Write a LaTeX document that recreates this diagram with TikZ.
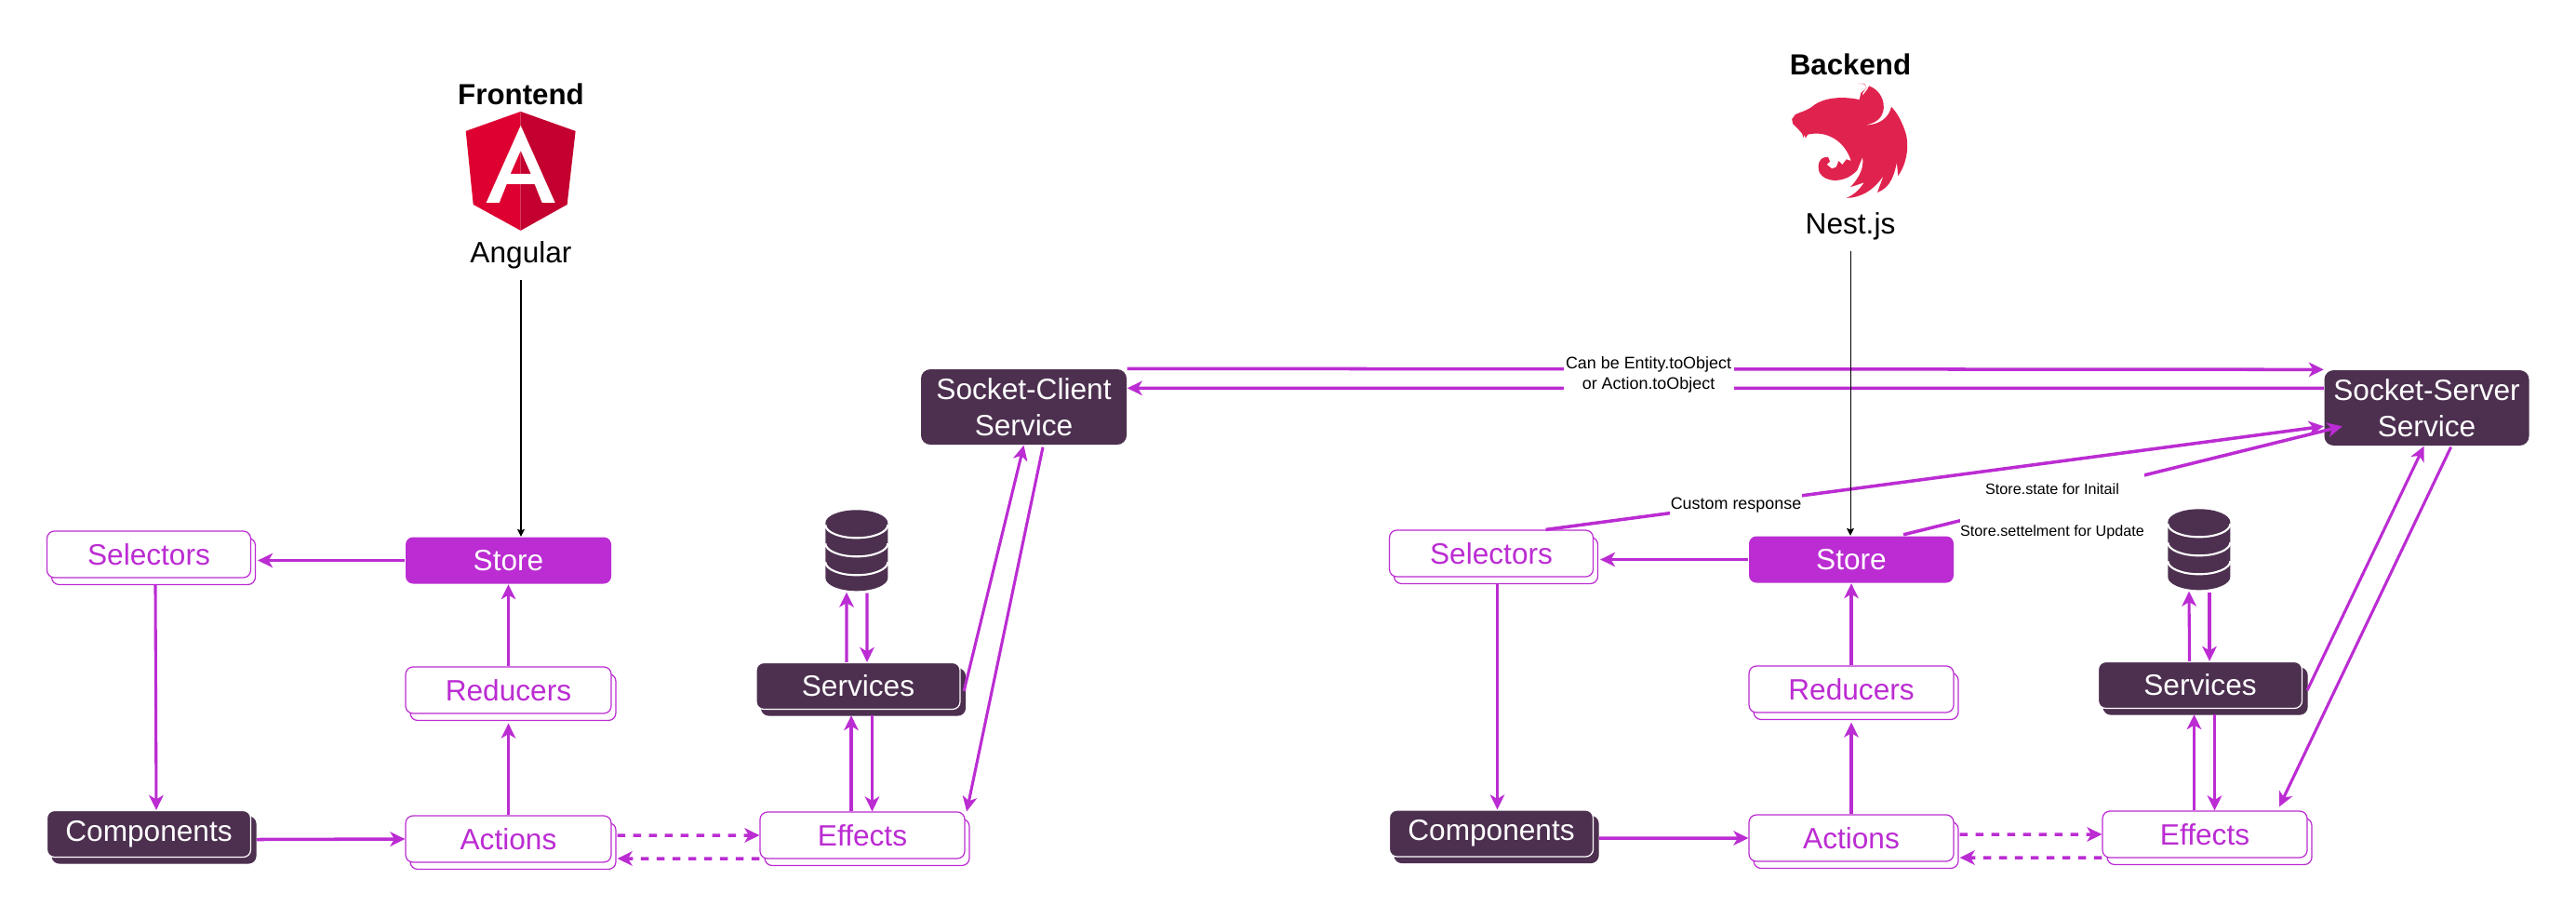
\documentclass[tikz,border=0pt]{standalone}
\usepackage{fontspec}
\setmainfont{Liberation Sans}
\usetikzlibrary{arrows.meta,shadows}

\definecolor{violetline}{HTML}{BB2CD2}
\definecolor{darkplum}{HTML}{4D3050}
\definecolor{angularred}{HTML}{DD0031}
\definecolor{angulardark}{HTML}{C3002F}
\definecolor{nestred}{HTML}{E0234E}

\tikzset{
  box/.style={minimum width=2.19cm,minimum height=.5cm,inner sep=0pt,rounded corners=.08cm,
    font=\fontsize{9}{11}\selectfont,align=center},
  lightbox/.style={box,draw=violetline,fill=white,text=violetline,line width=.35pt,
    copy shadow={shadow xshift=.05cm,shadow yshift=-.075cm,draw=violetline,fill=white,opacity=1}},
  darkbox/.style={box,draw=white,fill=darkplum,text=white,line width=.35pt,
    copy shadow={shadow xshift=.055cm,shadow yshift=-.065cm,draw=darkplum,fill=darkplum,opacity=1}},
  storebox/.style={box,fill=violetline,text=white},
  socketbox/.style={box,fill=darkplum,text=white,minimum height=.81cm,minimum width=2.21cm,rounded corners=.1cm},
  caption/.style={font=\fontsize{9}{11}\selectfont,inner sep=0pt},
  flowlabel/.style={fill=white,inner sep=0pt,align=center,font=\fontsize{5.1}{6.3}\selectfont},
  flow/.style={draw=violetline,line width=.88pt,-{Stealth[length=.16cm,width=.155cm,inset=.045cm]}},
  heavyflow/.style={flow,line width=1pt},
  dashflow/.style={heavyflow,dash pattern=on .085cm off .085cm},
  uses/.style={draw=black,line width=.3pt,-{Stealth[length=.08cm,width=.08cm,inset=.015cm]}},
}

\begin{document}
\begin{tikzpicture}
  \useasboundingbox (0,0) rectangle (27.69,-9.87);

  % angular logo, traced at 0.01cm per pixel
  \begin{scope}[x=.01cm,y=-.01cm]
    \fill[angularred] (560,120) -- (501,141) -- (509,220) -- (560,248) -- cycle;
    \fill[angulardark] (560,120) -- (619,141) -- (610,220) -- (560,248) -- cycle;
    \fill[white,even odd rule] (560,135) -- (523,218) -- (537,218) -- (545,198) -- (575,198)
      -- (583,218) -- (597,218) -- cycle
      (560,162) -- (549,187) -- (571,187) -- cycle;
  \end{scope}

  % nest logo
  \begin{scope}[shift={(18.5,0)},x=.003333cm,y=-.003333cm]
    \fill[nestred] (442,270) -- (465,272) -- (470,285) -- (452,300) -- (447,322)
      .. controls (400,312) and (340,312) .. (300,340)
      .. controls (280,358) and (255,362) .. (240,370)
      -- (229,385) -- (232,400) -- (250,418) -- (262,432) -- (266,445) -- (270,435) -- (273,447)
      -- (280,435)
      .. controls (340,420) and (400,455) .. (420,520)
      -- (405,515) -- (392,532) -- (380,520) -- (372,540) -- (358,545) -- (342,532) -- (352,522)
      -- (346,508)
      .. controls (320,505) and (308,530) .. (318,558)
      .. controls (335,590) and (400,595) .. (440,550)
      -- (457,508)
      .. controls (462,540) and (450,570) .. (418,605)
      -- (462,590)
      .. controls (450,610) and (430,630) .. (405,640)
      .. controls (445,640) and (490,620) .. (525,568)
      -- (505,622)
      .. controls (535,610) and (555,590) .. (568,525)
      -- (572,568)
      .. controls (600,530) and (610,470) .. (595,425)
      .. controls (585,395) and (570,365) .. (550,345)
      .. controls (545,375) and (515,405) .. (467,404)
      .. controls (505,398) and (530,375) .. (525,335)
      .. controls (520,305) and (500,285) .. (478,278)
      -- (472,290) -- (456,310) -- (458,300) -- (470,283) -- (462,270) -- cycle;
  \end{scope}

  % titles
  \node[caption,font=\fontsize{8.9}{11}\selectfont\bfseries] (frontend) at (5.6,-1.01) {Frontend};
  \node[caption,anchor=base] (angular) at (5.6,-2.82) {Angular};
  \node[caption,font=\fontsize{8.9}{11}\selectfont\bfseries] (backend) at (19.89,-.69) {Backend};
  \node[caption,anchor=base] (nest) at (19.89,-2.51) {Nest.js};
  \coordinate (angularend) at (5.6,-3.01);
  \coordinate (nestend) at (19.89,-2.7);

  % frontend boxes
  \node[lightbox] (sell) at (1.6,-5.96) {Selectors};
  \node[storebox,minimum width=2.21cm] (storel) at (5.465,-6.025) {Store};
  \node[lightbox,minimum width=2.21cm] (redl) at (5.465,-7.42) {Reducers};
  \node[darkbox] (compl) at (1.6,-8.965) {Components};
  \node[lightbox,minimum width=2.21cm] (actl) at (5.465,-9.02) {Actions};
  \node[darkbox] (svcl) at (9.225,-7.375) {Services};
  \node[lightbox,minimum width=2.2cm] (effl) at (9.27,-8.98) {Effects};

  % backend boxes
  \node[lightbox] (selr) at (16.03,-5.95) {Selectors};
  \node[storebox,minimum width=2.2cm] (storer) at (19.9,-6.015) {Store};
  \node[lightbox,minimum width=2.2cm] (redr) at (19.9,-7.41) {Reducers};
  \node[darkbox] (compr) at (16.03,-8.96) {Components};
  \node[lightbox,minimum width=2.2cm] (actr) at (19.9,-9.01) {Actions};
  \node[darkbox] (svcr) at (23.65,-7.365) {Services};
  \node[lightbox,minimum width=2.2cm] (effr) at (23.7,-8.97) {Effects};

  % sockets
  \node[socketbox] (sockc) at (11.005,-4.375) {Socket-Client\\Service};
  \node[socketbox,minimum width=2.2cm] (socks) at (26.085,-4.385) {Socket-Server\\Service};

  % databases
  \foreach \dbname/\dbx/\dby/\dbw in {dbl/9.215/-5.925/.335,dbr/23.645/-5.915/.335} {
    \node[minimum width=.67cm,minimum height=.87cm,inner sep=0pt] (\dbname) at (\dbx,\dby) {};
    \fill[darkplum] (\dbname.north west) ++(0,-.14)
      arc[start angle=180,end angle=0,x radius=\dbw,y radius=.14]
      -- ++(0,-.59) arc[start angle=0,end angle=-180,x radius=\dbw,y radius=.14] -- cycle;
    \foreach \dbshift in {-.16,-.36,-.56}
      \draw[white,line width=.6pt] (\dbname.north west) ++(0,\dbshift)
        arc[start angle=180,end angle=360,x radius=\dbw,y radius=.14];
  }

  % frontend flows
  \draw[uses] (angularend) -- (angularend |- storel.north);
  \draw[heavyflow] (storel.west) -- ([xshift=.07cm]sell.east |- storel.west);
  \draw[flow] ([xshift=.07cm,yshift=-.07cm]sell.south) -- ([xshift=.08cm]sell.south |- compl.north);
  \draw[flow] (redl.north) -- (storel.south);
  \draw[flow] (actl.north) -- ([yshift=-.1cm]redl.south);
  \draw[heavyflow] ([xshift=.06cm,yshift=-.06cm]compl.east) -- (actl.west |- 0,-9.02);
  \draw[dashflow] ([xshift=.06cm,yshift=.04cm]actl.east) -- (effl.west);
  \draw[dashflow] ([yshift=-.25cm]effl.west) -- ([xshift=.06cm,yshift=-.21cm]actl.east);
  \draw[flow] ([xshift=-.125cm]svcl.north) -- ([xshift=-.115cm]dbl.south);
  \draw[flow] ([xshift=.105cm,yshift=-.01cm]dbl.south) -- ([xshift=.095cm]svcl.north);
  \draw[flow] ([xshift=-.12cm]effl.north) -- ([xshift=-.075cm,yshift=-.06cm]svcl.south);
  \draw[flow] ([xshift=.15cm,yshift=-.06cm]svcl.south) -- ([xshift=.105cm]effl.north);
  \draw[flow] ([xshift=.035cm,yshift=-.055cm]svcl.east) -- (sockc.south);
  \draw[flow] ([xshift=.205cm,yshift=-.02cm]sockc.south) -- ([xshift=.015cm]effl.north east);

  % backend flows
  \draw[uses] (nestend) -- (nestend |- storer.north);
  \draw[heavyflow] (storer.west) -- ([xshift=.07cm]selr.east |- storer.west);
  \draw[flow] ([xshift=.065cm,yshift=-.07cm]selr.south) -- ([xshift=.065cm]selr.south |- compr.north);
  \draw[flow] (redr.north) -- (storer.south);
  \draw[flow] (actr.north) -- ([yshift=-.1cm]redr.south);
  \draw[heavyflow] ([xshift=.06cm,yshift=-.05cm]compr.east) -- (actr.west |- 0,-9.01);
  \draw[dashflow] ([xshift=.06cm,yshift=.04cm]actr.east) -- (effr.west);
  \draw[dashflow] ([yshift=-.25cm]effr.west) -- ([xshift=.06cm,yshift=-.21cm]actr.east);
  \draw[flow] ([xshift=-.115cm]svcr.north) -- ([xshift=-.115cm]dbr.south);
  \draw[flow] ([xshift=.105cm,yshift=-.01cm]dbr.south) -- ([xshift=.1cm]svcr.north);
  \draw[flow] ([xshift=-.115cm]effr.north) -- ([xshift=-.065cm,yshift=-.06cm]svcr.south);
  \draw[flow] ([xshift=.155cm,yshift=-.06cm]svcr.south) -- ([xshift=.105cm]effr.north);
  \draw[flow] ([xshift=.05cm,yshift=-.055cm]svcr.east) -- ([xshift=-.03cm]socks.south);
  \draw[flow] ([xshift=.26cm,yshift=-.01cm]socks.south) -- ([xshift=.8cm,yshift=.04cm]effr.north);

  % socket flows, their labels sit on top
  \draw[heavyflow] (sockc.north east) -- (socks.north west);
  \draw[heavyflow] ([yshift=-.2cm]socks.north west) -- ([yshift=-.21cm]sockc.north east);
  \node[flowlabel,minimum width=1.83cm,minimum height=.46cm] (wire) at (17.72,-4.03)
    {Can be Entity.toObject\\or Action.toObject};
  \draw[heavyflow] ([xshift=.56cm,yshift=.01cm]storer.north) -- ([xshift=.2cm,yshift=-.61cm]socks.north west);
  \node[flowlabel,font=\fontsize{4.6}{6.3}\selectfont,minimum width=1.96cm,minimum height=.82cm] (statel) at (22.06,-5.495)
    {Store.state for Initail\\[.23cm]Store.settelment for Update};
  \draw[heavyflow] ([xshift=.585cm]selr.north) -- ([yshift=-.61cm]socks.north west);
  \node[flowlabel,minimum width=1.42cm,minimum height=.28cm] (respl) at (18.66,-5.43) {Custom response};
  \draw[uses,-] (nestend) -- (nestend |- respl.north);
\end{tikzpicture}
\end{document}
